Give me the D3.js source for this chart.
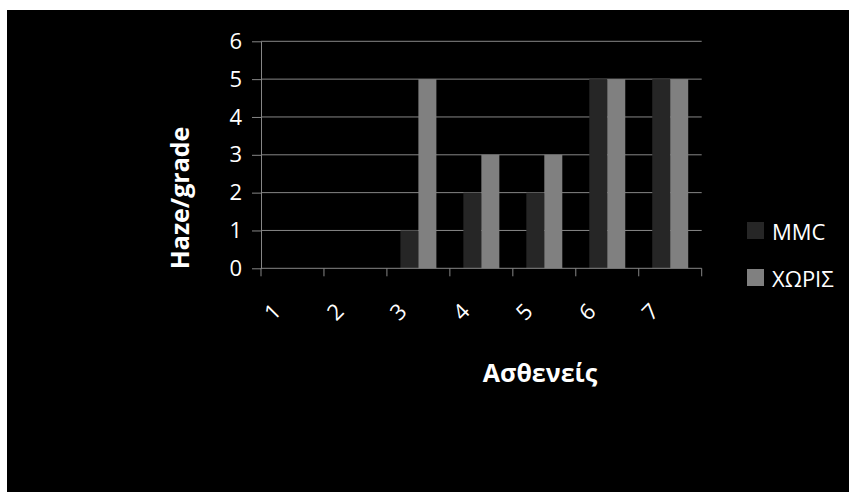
<!DOCTYPE html>
<html>
<head>
<meta charset="utf-8">
<script src="https://cdn.jsdelivr.net/npm/d3@7"></script>
<style>
  html, body { margin: 0; padding: 0; background: #ffffff; }
  svg { display: block; }
  text { font-family: "Open Sans", "Noto Sans", sans-serif; fill: #ffffff; }
</style>
</head>
<body>
<svg id="chart" width="849" height="492"></svg>
<script>
// Patients and their haze grade, with and without MMC
const patients = ["1", "2", "3", "4", "5", "6", "7"];
const seriesNames = ["MMC", "ΧΩΡΙΣ"];
const mmcValues = [0, 0, 1, 2, 2, 5, 5];
const withoutValues = [0, 0, 5, 3, 3, 5, 5];
const yTicks = [0, 1, 2, 3, 4, 5, 6];
const seriesColors = ["#262626", "#808080"];

const svg = d3.select("#chart");

// black chart area
svg.append("rect")
  .attr("x", 7).attr("y", 10)
  .attr("width", 842).attr("height", 482)
  .attr("fill", "#000000");

const plot = { left: 261, right: 701.7, top: 41.3, bottom: 268.3 };
const gridColor = "#868686";

const x = d3.scaleBand()
  .domain(patients)
  .range([plot.left, plot.right])
  .paddingInner(0)
  .paddingOuter(0);

const xInner = d3.scaleBand()
  .domain(seriesNames)
  .range([0, x.bandwidth()])
  .paddingOuter(0.75)
  .paddingInner(0);

const y = d3.scaleLinear()
  .domain([0, 6])
  .range([plot.bottom, plot.top]);

// horizontal gridlines
svg.append("g")
  .selectAll("line")
  .data(yTicks.filter(t => t > 0))
  .join("line")
  .attr("x1", plot.left).attr("x2", plot.right)
  .attr("y1", d => y(d)).attr("y2", d => y(d))
  .attr("stroke", gridColor)
  .attr("stroke-width", 1);

// bars
const rows = patients.map((p, i) => ({ p, values: [mmcValues[i], withoutValues[i]] }));
svg.append("g")
  .selectAll("g")
  .data(rows)
  .join("g")
  .attr("transform", d => `translate(${x(d.p)},0)`)
  .selectAll("rect")
  .data(d => d.values.map((v, k) => ({ name: seriesNames[k], v, k })))
  .join("rect")
  .attr("x", d => xInner(d.name))
  .attr("width", xInner.bandwidth())
  .attr("y", d => y(d.v))
  .attr("height", d => y(0) - y(d.v))
  .attr("fill", d => seriesColors[d.k]);

// y axis
const yAxis = svg.append("g")
  .attr("transform", `translate(${plot.left},0)`)
  .call(d3.axisLeft(y).tickValues(yTicks).tickFormat(d3.format("d")).tickSize(9).tickSizeOuter(0).tickPadding(10));
yAxis.select(".domain").attr("stroke", gridColor);
yAxis.selectAll(".tick line").attr("stroke", gridColor);
yAxis.selectAll(".tick text")
  .attr("fill", "#ffffff")
  .style("font-size", "22px")
  .style("font-family", "'Open Sans', sans-serif");

// x axis line and category ticks
const boundaries = patients.map(p => x(p)).concat([plot.right]);
svg.append("line")
  .attr("x1", plot.left).attr("x2", plot.right)
  .attr("y1", plot.bottom).attr("y2", plot.bottom)
  .attr("stroke", gridColor);
svg.append("g")
  .selectAll("line")
  .data(boundaries)
  .join("line")
  .attr("x1", d => d).attr("x2", d => d)
  .attr("y1", plot.bottom).attr("y2", plot.bottom + 8)
  .attr("stroke", gridColor);

// rotated category labels
svg.append("g")
  .selectAll("text")
  .data(patients)
  .join("text")
  .attr("transform", d => `translate(${x(d) + x.bandwidth() / 2 - 21},311) rotate(-45)`)
  .attr("text-anchor", "middle")
  .attr("dominant-baseline", "central")
  .style("font-size", "22px")
  .text(d => d);

// axis titles
svg.append("text")
  .attr("x", 540).attr("y", 382)
  .attr("text-anchor", "middle")
  .style("font-size", "25px")
  .style("font-weight", "bold")
  .text("Ασθενείς");

svg.append("text")
  .attr("transform", "translate(189,198) rotate(-90)")
  .attr("text-anchor", "middle")
  .style("font-size", "25px")
  .style("font-weight", "bold")
  .text("Haze/grade");

// legend
const legend = svg.append("g")
  .selectAll("g")
  .data(seriesNames)
  .join("g")
  .attr("transform", (d, i) => `translate(747,${222 + i * 47})`);
legend.append("rect")
  .attr("width", 17).attr("height", 17)
  .attr("fill", (d, i) => seriesColors[i]);
legend.append("text")
  .attr("x", 25).attr("y", 8.5)
  .attr("dominant-baseline", "central")
  .style("font-size", "22px")
  .text(d => d);
</script>
</body>
</html>
